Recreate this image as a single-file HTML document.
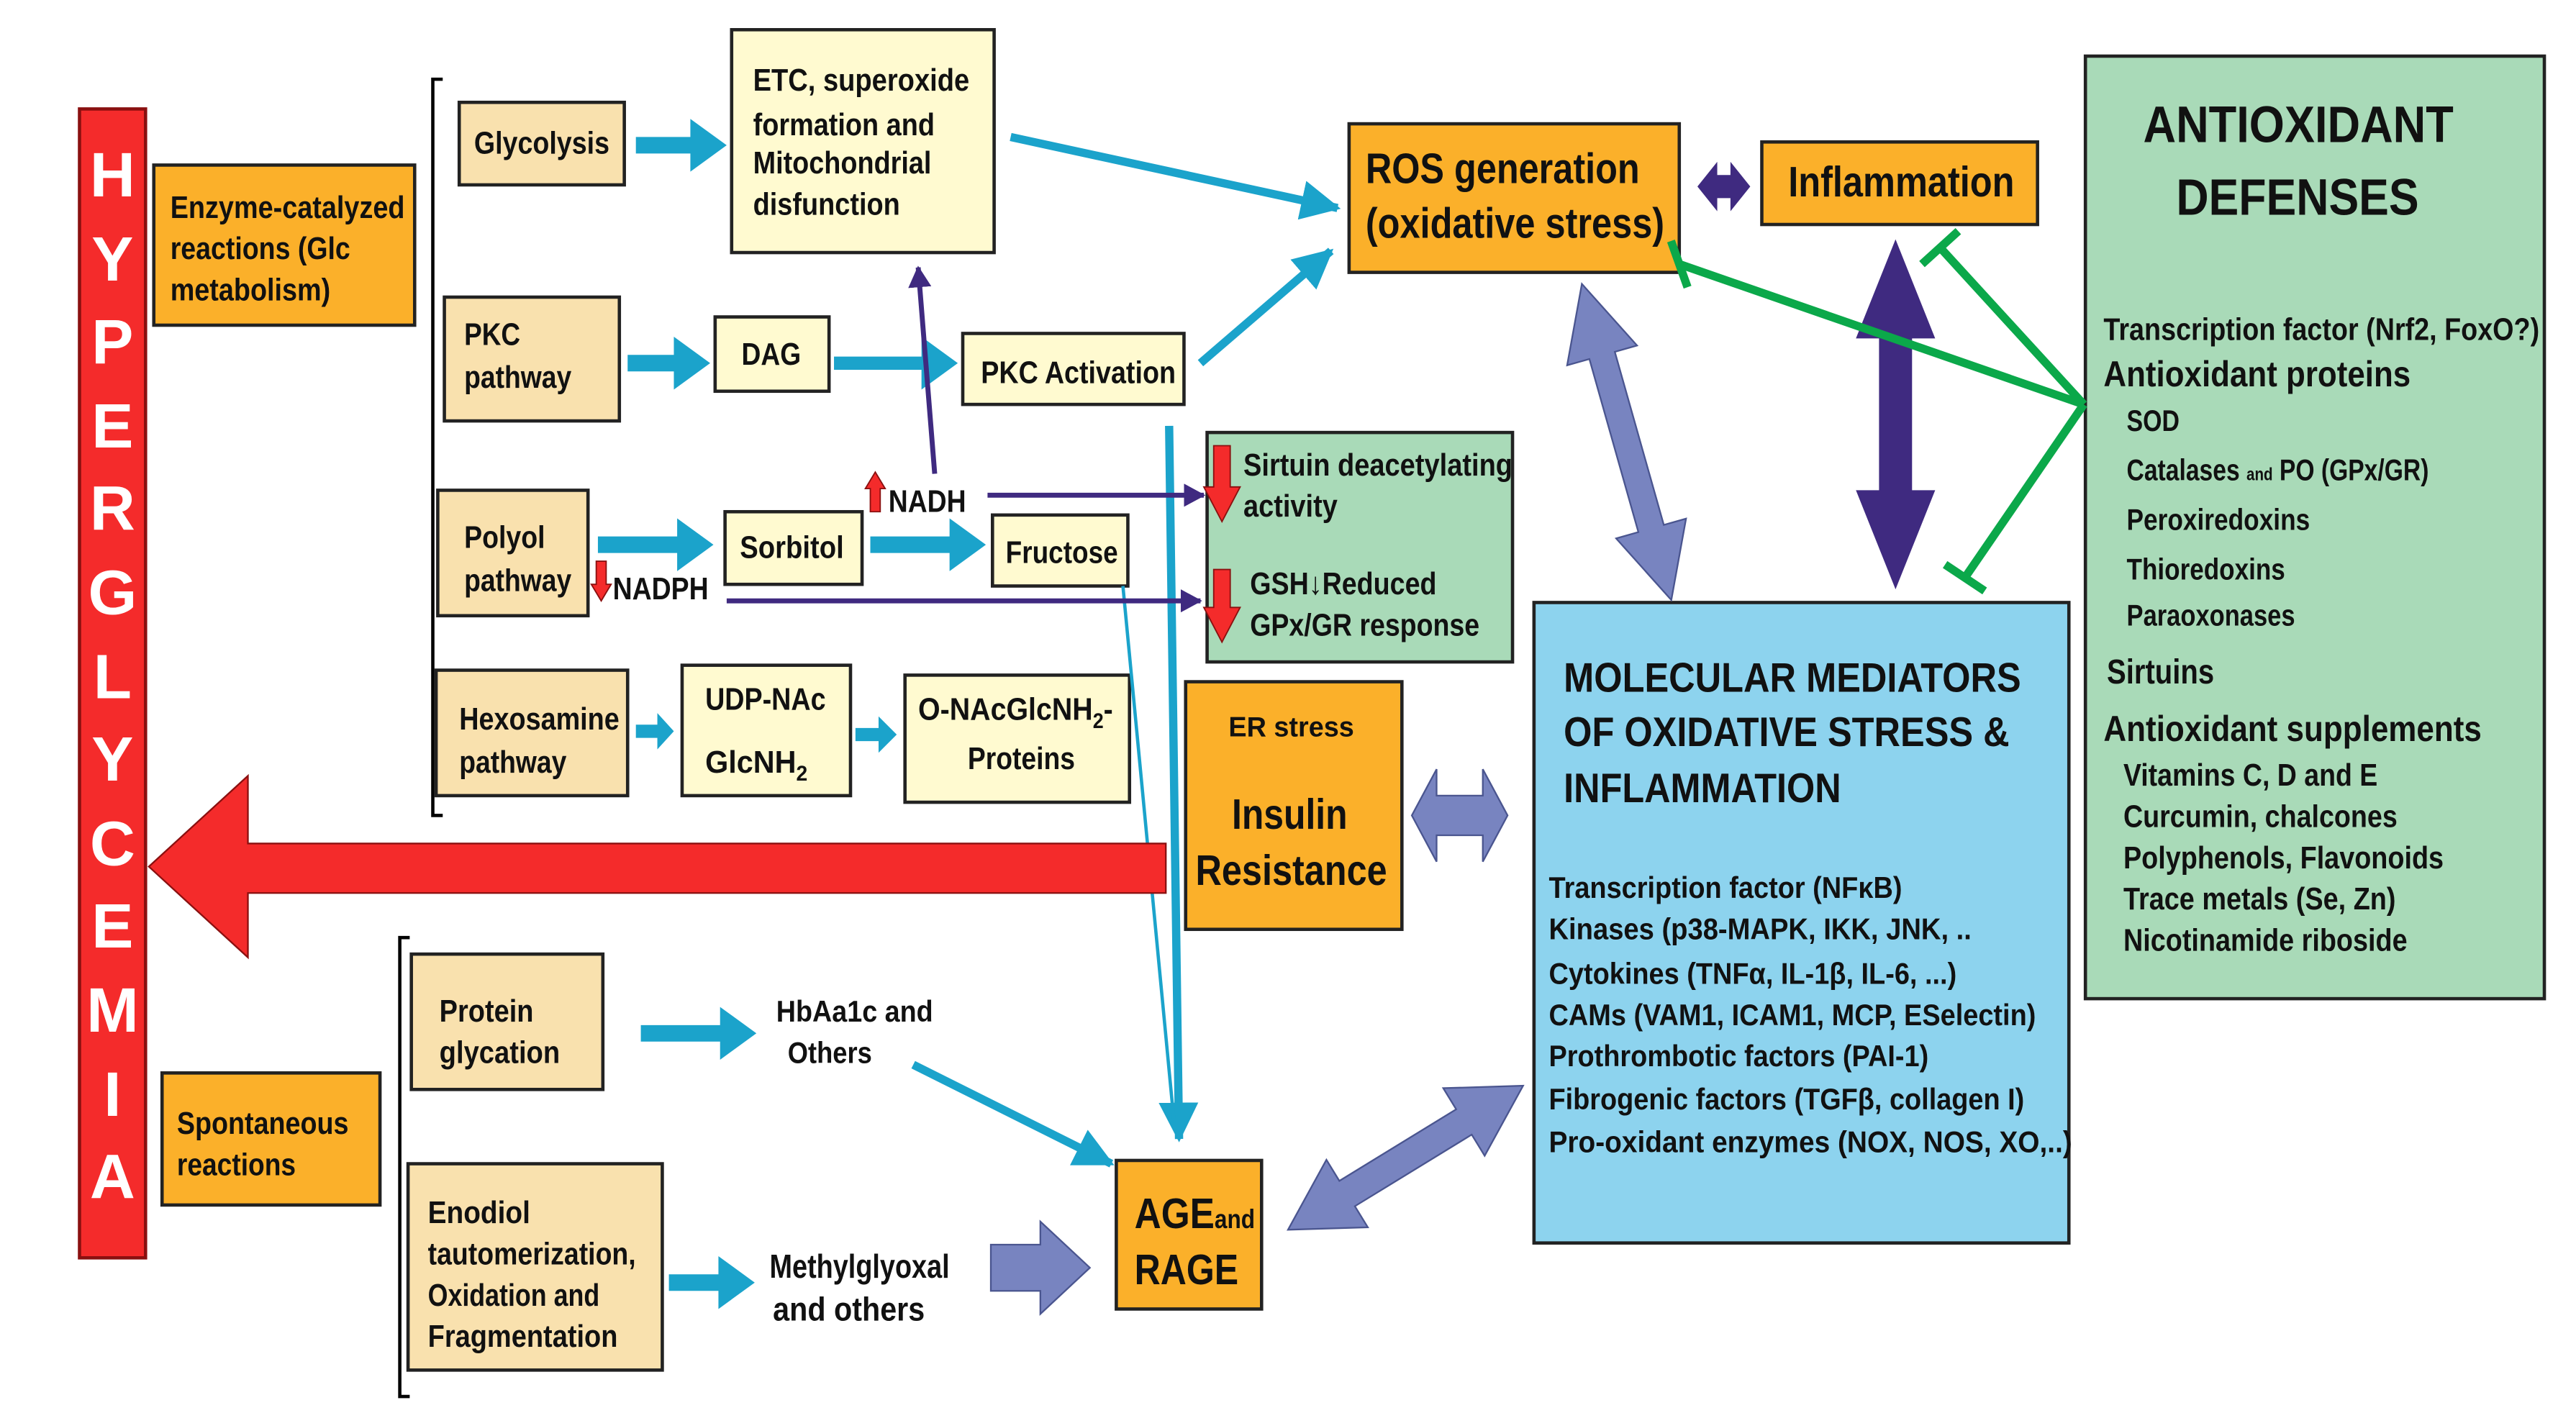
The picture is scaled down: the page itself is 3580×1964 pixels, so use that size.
<!DOCTYPE html>
<html><head><meta charset="utf-8"><style>
html,body{margin:0;padding:0;background:#fff;}
svg{display:block;}
text{font-family:"Liberation Sans",sans-serif;font-weight:bold;fill:#111;}
</style></head><body>
<svg width="3580" height="1964" viewBox="0 0 1560 856" xmlns="http://www.w3.org/2000/svg">
<defs>
<marker id="ac" markerUnits="userSpaceOnUse" markerWidth="30" markerHeight="30" refX="22" refY="12" orient="auto"><path d="M0,0 L24,12 L0,24 z" fill="#1BA3CB"/></marker>
<marker id="ap" markerUnits="userSpaceOnUse" markerWidth="20" markerHeight="20" refX="12" refY="7" orient="auto"><path d="M0,0 L13,7 L0,14 z" fill="#3F2A80"/></marker>
</defs>
<rect width="1560" height="856" fill="#fff"/>
<g stroke="#222" stroke-width="2">
<rect x="48" y="66" width="40" height="696" fill="#F42B2B" stroke="#8a1010"/>
<rect x="93" y="100" width="158" height="97" fill="#FBB02A"/>
<rect x="278" y="62" width="100" height="50" fill="#F9E1AE"/>
<rect x="443" y="18" width="159" height="135" fill="#FFFAD0"/>
<rect x="269" y="180" width="106" height="75" fill="#F9E1AE"/>
<rect x="433" y="192" width="69" height="45" fill="#FFFAD0"/>
<rect x="583" y="202" width="134" height="43" fill="#FFFAD0"/>
<rect x="265" y="297" width="91" height="76" fill="#F9E1AE"/>
<rect x="439" y="310" width="83" height="44" fill="#FFFAD0"/>
<rect x="601" y="312" width="82" height="43" fill="#FFFAD0"/>
<rect x="731" y="262" width="185" height="139" fill="#A9DAB8"/>
<rect x="264" y="406" width="116" height="76" fill="#F9E1AE"/>
<rect x="413" y="403" width="102" height="79" fill="#FFFAD0"/>
<rect x="548" y="409" width="136" height="77" fill="#FFFAD0"/>
<rect x="718" y="413" width="131" height="150" fill="#FBB02A"/>
<rect x="817" y="75" width="200" height="90" fill="#FBB02A"/>
<rect x="1067" y="86" width="167" height="50" fill="#FBB02A"/>
<rect x="1263" y="34" width="278" height="571" fill="#A9DAB8"/>
<rect x="929" y="365" width="324" height="388" fill="#8DD3EE"/>
<rect x="249" y="578" width="116" height="82" fill="#F9E1AE"/>
<rect x="98" y="650" width="132" height="80" fill="#FBB02A"/>
<rect x="247" y="705" width="154" height="125" fill="#F9E1AE"/>
<rect x="676" y="703" width="88" height="90" fill="#FBB02A"/>
</g>
<path d="M268,48 L262,48 L262,494 L268,494" fill="none" stroke="#000" stroke-width="2"/>
<path d="M248,568 L242,568 L242,846 L248,846" fill="none" stroke="#000" stroke-width="2"/>
<g fill="#1BA3CB">
<polygon points="385,83 418,83 418,72 440,88 418,104 418,93 385,93"/>
<polygon points="380,215 408,215 408,204 430,220 408,236 408,225 380,225"/>
<polygon points="505,216 558,216 558,204 580,220 558,236 558,224 505,224"/>
<polygon points="362,325 410,325 410,314 432,330 410,346 410,335 362,335"/>
<polygon points="527,325 575,325 575,314 597,330 575,346 575,335 527,335"/>
<polygon points="385,439 398,439 398,432 408,443 398,454 398,447 385,447"/>
<polygon points="518,441 532,441 532,434 543,445 532,456 532,449 518,449"/>
<polygon points="388,621 436,621 436,610 458,626 436,642 436,631 388,631"/>
<polygon points="405,772 435,772 435,761 457,777 435,793 435,782 405,782"/>
</g>
<g stroke="#1BA3CB" stroke-width="5" fill="none">
<line x1="612" y1="83" x2="810" y2="126" marker-end="url(#ac)"/>
<line x1="727" y1="220" x2="806" y2="152" marker-end="url(#ac)"/>
<line x1="708" y1="258" x2="714" y2="690" marker-end="url(#ac)"/>
<line x1="553" y1="645" x2="673" y2="705" marker-end="url(#ac)"/>
<line x1="680" y1="355" x2="711" y2="680" stroke-width="2"/>
</g>
<g stroke="#3F2A80" stroke-width="3" fill="none">
<line x1="566" y1="287" x2="556" y2="162" marker-end="url(#ap)"/>
<line x1="598" y1="300" x2="729" y2="300" marker-end="url(#ap)"/>
<line x1="440" y1="364" x2="727" y2="364" marker-end="url(#ap)"/>
</g>
<g fill="#F42B2B" stroke="#8a1010" stroke-width="0.8">
<polygon points="527,310 527,296 524,296 530,286 536,296 533,296 533,310"/>
<polygon points="361,340 367,340 367,354 370,354 364,364 358,354 361,354"/>
<polygon points="735,270 745,270 745,295 751,295 740,316 729,295 735,295"/>
<polygon points="735,345 745,345 745,368 751,368 740,389 729,368 735,368"/>
</g>
<polygon points="706,511 150,511 150,470 90,525 150,580 150,541 706,541" fill="#F42B2B" stroke="#8a1010" stroke-width="1"/>
<polygon points="1028,113 1040,98 1040,106 1048,106 1048,98 1060,113 1048,128 1048,120 1040,120 1040,128" fill="#3F2A80"/>
<polygon points="1148,145 1172,205 1158,205 1158,297 1172,297 1148,357 1124,297 1138,297 1138,205 1124,205" fill="#3F2A80"/>
<g fill="#7884C0" stroke="#4a558f" stroke-width="1">
<polygon points="855,494 870,466 870,482 898,482 898,466 913,494 898,522 898,506 870,506 870,522"/>
<polygon points="600,754 630,754 630,740 660,768 630,796 630,782 600,782"/>
<g transform="translate(958,172) rotate(74.2)"><polygon points="0,0 45,-22 45,-8 154,-8 154,-22 199,0 154,22 154,8 45,8 45,22"/></g>
<g transform="translate(780,745) rotate(-31.5)"><polygon points="0,0 42,-24 42,-9 125,-9 125,-24 167,0 125,24 125,9 42,9 42,24"/></g>
</g>
<g stroke="#0BA84A" stroke-width="5" fill="none">
<line x1="1017" y1="160" x2="1262" y2="245"/>
<line x1="1012" y1="146" x2="1022" y2="174"/>
<line x1="1262" y1="245" x2="1175" y2="150"/>
<line x1="1164" y1="160" x2="1186" y2="140"/>
<line x1="1262" y1="245" x2="1190" y2="350"/>
<line x1="1178" y1="342" x2="1202" y2="358"/>
</g>
<g font-size="38" text-anchor="middle">
<text x="68" y="119" style="fill:#fff">H</text><text x="68" y="170" style="fill:#fff">Y</text><text x="68" y="220" style="fill:#fff">P</text><text x="68" y="271" style="fill:#fff">E</text><text x="68" y="321" style="fill:#fff">R</text><text x="68" y="372" style="fill:#fff">G</text><text x="68" y="423" style="fill:#fff">L</text><text x="68" y="473" style="fill:#fff">Y</text><text x="68" y="524" style="fill:#fff">C</text><text x="68" y="574" style="fill:#fff">E</text><text x="68" y="625" style="fill:#fff">M</text><text x="68" y="676" style="fill:#fff">I</text><text x="68" y="726" style="fill:#fff">A</text>
</g>
<g font-size="19">
<text x="103" y="132" textLength="142" lengthAdjust="spacingAndGlyphs">Enzyme-catalyzed</text>
<text x="103" y="157" textLength="109" lengthAdjust="spacingAndGlyphs">reactions (Glc</text>
<text x="103" y="182" textLength="97" lengthAdjust="spacingAndGlyphs">metabolism)</text>
<text x="287" y="93" textLength="82" lengthAdjust="spacingAndGlyphs">Glycolysis</text>
<text x="456" y="55" textLength="131" lengthAdjust="spacingAndGlyphs">ETC, superoxide</text>
<text x="456" y="82" textLength="110" lengthAdjust="spacingAndGlyphs">formation and</text>
<text x="456" y="105" textLength="108" lengthAdjust="spacingAndGlyphs">Mitochondrial</text>
<text x="456" y="130" textLength="89" lengthAdjust="spacingAndGlyphs">disfunction</text>
<text x="281" y="209" textLength="34" lengthAdjust="spacingAndGlyphs">PKC</text>
<text x="281" y="235" textLength="65" lengthAdjust="spacingAndGlyphs">pathway</text>
<text x="449" y="221" textLength="36" lengthAdjust="spacingAndGlyphs">DAG</text>
<text x="594" y="232" textLength="118" lengthAdjust="spacingAndGlyphs">PKC Activation</text>
<text x="281" y="332" textLength="49" lengthAdjust="spacingAndGlyphs">Polyol</text>
<text x="281" y="358" textLength="65" lengthAdjust="spacingAndGlyphs">pathway</text>
<text x="448" y="338" textLength="63" lengthAdjust="spacingAndGlyphs">Sorbitol</text>
<text x="609" y="341" textLength="68" lengthAdjust="spacingAndGlyphs">Fructose</text>
<text x="538" y="310" textLength="47" lengthAdjust="spacingAndGlyphs">NADH</text>
<text x="371" y="363" textLength="58" lengthAdjust="spacingAndGlyphs">NADPH</text>
<text x="753" y="288" textLength="163" lengthAdjust="spacingAndGlyphs">Sirtuin deacetylating</text>
<text x="753" y="313" textLength="57" lengthAdjust="spacingAndGlyphs">activity</text>
<text x="757" y="360" textLength="113" lengthAdjust="spacingAndGlyphs">GSH↓Reduced</text>
<text x="757" y="385" textLength="139" lengthAdjust="spacingAndGlyphs">GPx/GR response</text>
<text x="278" y="442" textLength="97" lengthAdjust="spacingAndGlyphs">Hexosamine</text>
<text x="278" y="468" textLength="65" lengthAdjust="spacingAndGlyphs">pathway</text>
<text x="427" y="430" textLength="73" lengthAdjust="spacingAndGlyphs">UDP-NAc</text>
<text x="427" y="468" textLength="62" lengthAdjust="spacingAndGlyphs">GlcNH<tspan font-size="13" dy="5">2</tspan></text>
<text x="556" y="436" textLength="118" lengthAdjust="spacingAndGlyphs">O-NAcGlcNH<tspan font-size="13" dy="5">2</tspan><tspan dy="-5">-</tspan></text>
<text x="586" y="466" textLength="65" lengthAdjust="spacingAndGlyphs">Proteins</text>
<text x="744" y="446" font-size="17" textLength="76" lengthAdjust="spacingAndGlyphs">ER stress</text>
<text x="746" y="502" font-size="26" textLength="70" lengthAdjust="spacingAndGlyphs">Insulin</text>
<text x="724" y="536" font-size="26" textLength="116" lengthAdjust="spacingAndGlyphs">Resistance</text>
<text x="827" y="111" font-size="26" textLength="166" lengthAdjust="spacingAndGlyphs">ROS generation</text>
<text x="827" y="144" font-size="26" textLength="181" lengthAdjust="spacingAndGlyphs">(oxidative stress)</text>
<text x="1083" y="119" font-size="26" textLength="137" lengthAdjust="spacingAndGlyphs">Inflammation</text>
<text x="1298" y="86" font-size="31" textLength="188" lengthAdjust="spacingAndGlyphs">ANTIOXIDANT</text>
<text x="1318" y="130" font-size="31" textLength="147" lengthAdjust="spacingAndGlyphs">DEFENSES</text>
<text x="1274" y="206" textLength="264" lengthAdjust="spacingAndGlyphs">Transcription factor (Nrf2, FoxO?)</text>
<text x="1274" y="234" font-size="22" textLength="186" lengthAdjust="spacingAndGlyphs">Antioxidant proteins</text>
<text x="1288" y="261" font-size="18" textLength="32" lengthAdjust="spacingAndGlyphs">SOD</text>
<text x="1288" y="291" font-size="18" textLength="183" lengthAdjust="spacingAndGlyphs">Catalases <tspan font-size="11">and</tspan> PO (GPx/GR)</text>
<text x="1288" y="321" font-size="18" textLength="111" lengthAdjust="spacingAndGlyphs">Peroxiredoxins</text>
<text x="1288" y="351" font-size="18" textLength="96" lengthAdjust="spacingAndGlyphs">Thioredoxins</text>
<text x="1288" y="379" font-size="18" textLength="102" lengthAdjust="spacingAndGlyphs">Paraoxonases</text>
<text x="1276" y="414" font-size="21" textLength="65" lengthAdjust="spacingAndGlyphs">Sirtuins</text>
<text x="1274" y="449" font-size="22" textLength="229" lengthAdjust="spacingAndGlyphs">Antioxidant supplements</text>
<text x="1286" y="476" textLength="154" lengthAdjust="spacingAndGlyphs">Vitamins C, D and E</text>
<text x="1286" y="501" textLength="166" lengthAdjust="spacingAndGlyphs">Curcumin, chalcones</text>
<text x="1286" y="526" textLength="194" lengthAdjust="spacingAndGlyphs">Polyphenols, Flavonoids</text>
<text x="1286" y="551" textLength="165" lengthAdjust="spacingAndGlyphs">Trace metals (Se, Zn)</text>
<text x="1286" y="576" textLength="172" lengthAdjust="spacingAndGlyphs">Nicotinamide riboside</text>
<text x="947" y="419" font-size="25" textLength="277" lengthAdjust="spacingAndGlyphs">MOLECULAR MEDIATORS</text>
<text x="947" y="452" font-size="25" textLength="270" lengthAdjust="spacingAndGlyphs">OF OXIDATIVE STRESS &amp;</text>
<text x="947" y="486" font-size="25" textLength="168" lengthAdjust="spacingAndGlyphs">INFLAMMATION</text>
<text x="938" y="544" font-size="18" textLength="214" lengthAdjust="spacingAndGlyphs">Transcription factor (NFκB)</text>
<text x="938" y="569" font-size="18" textLength="256" lengthAdjust="spacingAndGlyphs">Kinases (p38-MAPK, IKK, JNK, ..</text>
<text x="938" y="596" font-size="18" textLength="247" lengthAdjust="spacingAndGlyphs">Cytokines (TNFα, IL-1β, IL-6, ...)</text>
<text x="938" y="621" font-size="18" textLength="295" lengthAdjust="spacingAndGlyphs">CAMs (VAM1, ICAM1, MCP, ESelectin)</text>
<text x="938" y="646" font-size="18" textLength="230" lengthAdjust="spacingAndGlyphs">Prothrombotic factors (PAI-1)</text>
<text x="938" y="672" font-size="18" textLength="288" lengthAdjust="spacingAndGlyphs">Fibrogenic factors (TGFβ, collagen I)</text>
<text x="938" y="698" font-size="18" textLength="317" lengthAdjust="spacingAndGlyphs">Pro-oxidant enzymes (NOX, NOS, XO,..)</text>
<text x="266" y="619" textLength="57" lengthAdjust="spacingAndGlyphs">Protein</text>
<text x="266" y="644" textLength="73" lengthAdjust="spacingAndGlyphs">glycation</text>
<text x="470" y="619" font-size="18" textLength="95" lengthAdjust="spacingAndGlyphs">HbAa1c and</text>
<text x="477" y="644" font-size="18" textLength="51" lengthAdjust="spacingAndGlyphs">Others</text>
<text x="107" y="687" textLength="104" lengthAdjust="spacingAndGlyphs">Spontaneous</text>
<text x="107" y="712" textLength="72" lengthAdjust="spacingAndGlyphs">reactions</text>
<text x="259" y="741" textLength="62" lengthAdjust="spacingAndGlyphs">Enodiol</text>
<text x="259" y="766" textLength="126" lengthAdjust="spacingAndGlyphs">tautomerization,</text>
<text x="259" y="791" textLength="104" lengthAdjust="spacingAndGlyphs">Oxidation and</text>
<text x="259" y="816" textLength="115" lengthAdjust="spacingAndGlyphs">Fragmentation</text>
<text x="466" y="774" font-size="20" textLength="109" lengthAdjust="spacingAndGlyphs">Methylglyoxal</text>
<text x="468" y="800" font-size="20" textLength="92" lengthAdjust="spacingAndGlyphs">and others</text>
<text x="687" y="744" font-size="26" textLength="73" lengthAdjust="spacingAndGlyphs">AGE<tspan font-size="16">and</tspan></text>
<text x="687" y="778" font-size="26" textLength="63" lengthAdjust="spacingAndGlyphs">RAGE</text>
</g>
</svg>
</body></html>
